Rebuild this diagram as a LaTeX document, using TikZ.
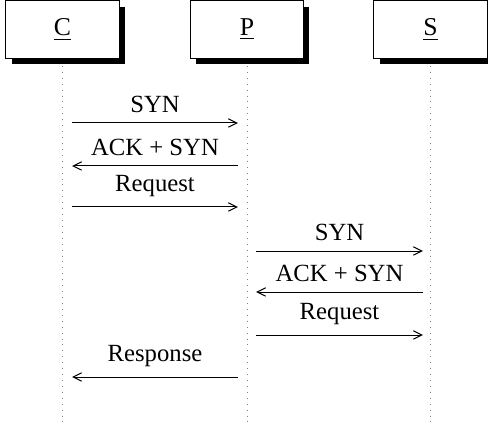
\documentclass[tikz,border=0pt]{standalone}
\usepackage{fontspec}
\setmainfont{Liberation Serif}
\usetikzlibrary{shadows,arrows.meta}
\begin{document}
\begin{tikzpicture}[x=0.405pt,y=-0.405pt,
  inst/.style={draw, line width=0.4pt, fill=white, minimum width=45.8pt, minimum height=23.1pt, inner sep=0pt,
    font=\fontsize{10.4}{12}\selectfont,
    drop shadow={shadow xshift=2.4pt, shadow yshift=-2.4pt, fill=black, opacity=1}},
  life/.style={dotted, gray, line width=0.4pt},
  msg/.style={-{Straight Barb[length=3.5pt,width=3.4pt,line width=0.4pt]}, line width=0.4pt},
  lbl/.style={midway, above, inner sep=4pt, font=\fontsize{10}{12}\selectfont}]
\useasboundingbox (0,0) rectangle (488,423);
% lifelines
\coordinate (cb) at (62.5,423);
\coordinate (pb) at (247,423);
\coordinate (sb) at (430.5,423);
\draw[life] (62.5,60) -- (cb);
\draw[life] (247,60) -- (pb);
\draw[life] (430.5,60) -- (sb);
% instances
\node[inst] (C) at (62.5,29.5) {\underline{C}};
\node[inst] (P) at (247,29.5) {\underline{P}};
\node[inst] (S) at (430.5,29.5) {\underline{S}};
% message end points
\coordinate (c1) at (72,123);  \coordinate (p1) at (238,123);
\coordinate (c2) at (72,166);  \coordinate (p2) at (238,166);
\coordinate (c3) at (72,207);  \coordinate (p3) at (238,207);
\coordinate (p4) at (256,251); \coordinate (s4) at (423,251);
\coordinate (p5) at (256,292); \coordinate (s5) at (423,292);
\coordinate (p6) at (256,335); \coordinate (s6) at (423,335);
\coordinate (c7) at (72,377);  \coordinate (p7) at (238,377);
% messages
\draw[msg] (c1) -- node[lbl] {SYN} (p1);
\draw[msg] (p2) -- node[lbl] {ACK + SYN} (c2);
\draw[msg] (c3) -- node[lbl] {Request} (p3);
\draw[msg] (p4) -- node[lbl] {SYN} (s4);
\draw[msg] (s5) -- node[lbl] {ACK + SYN} (p5);
\draw[msg] (p6) -- node[lbl] {Request} (s6);
\draw[msg] (p7) -- node[lbl] {Response} (c7);
\end{tikzpicture}
\end{document}
